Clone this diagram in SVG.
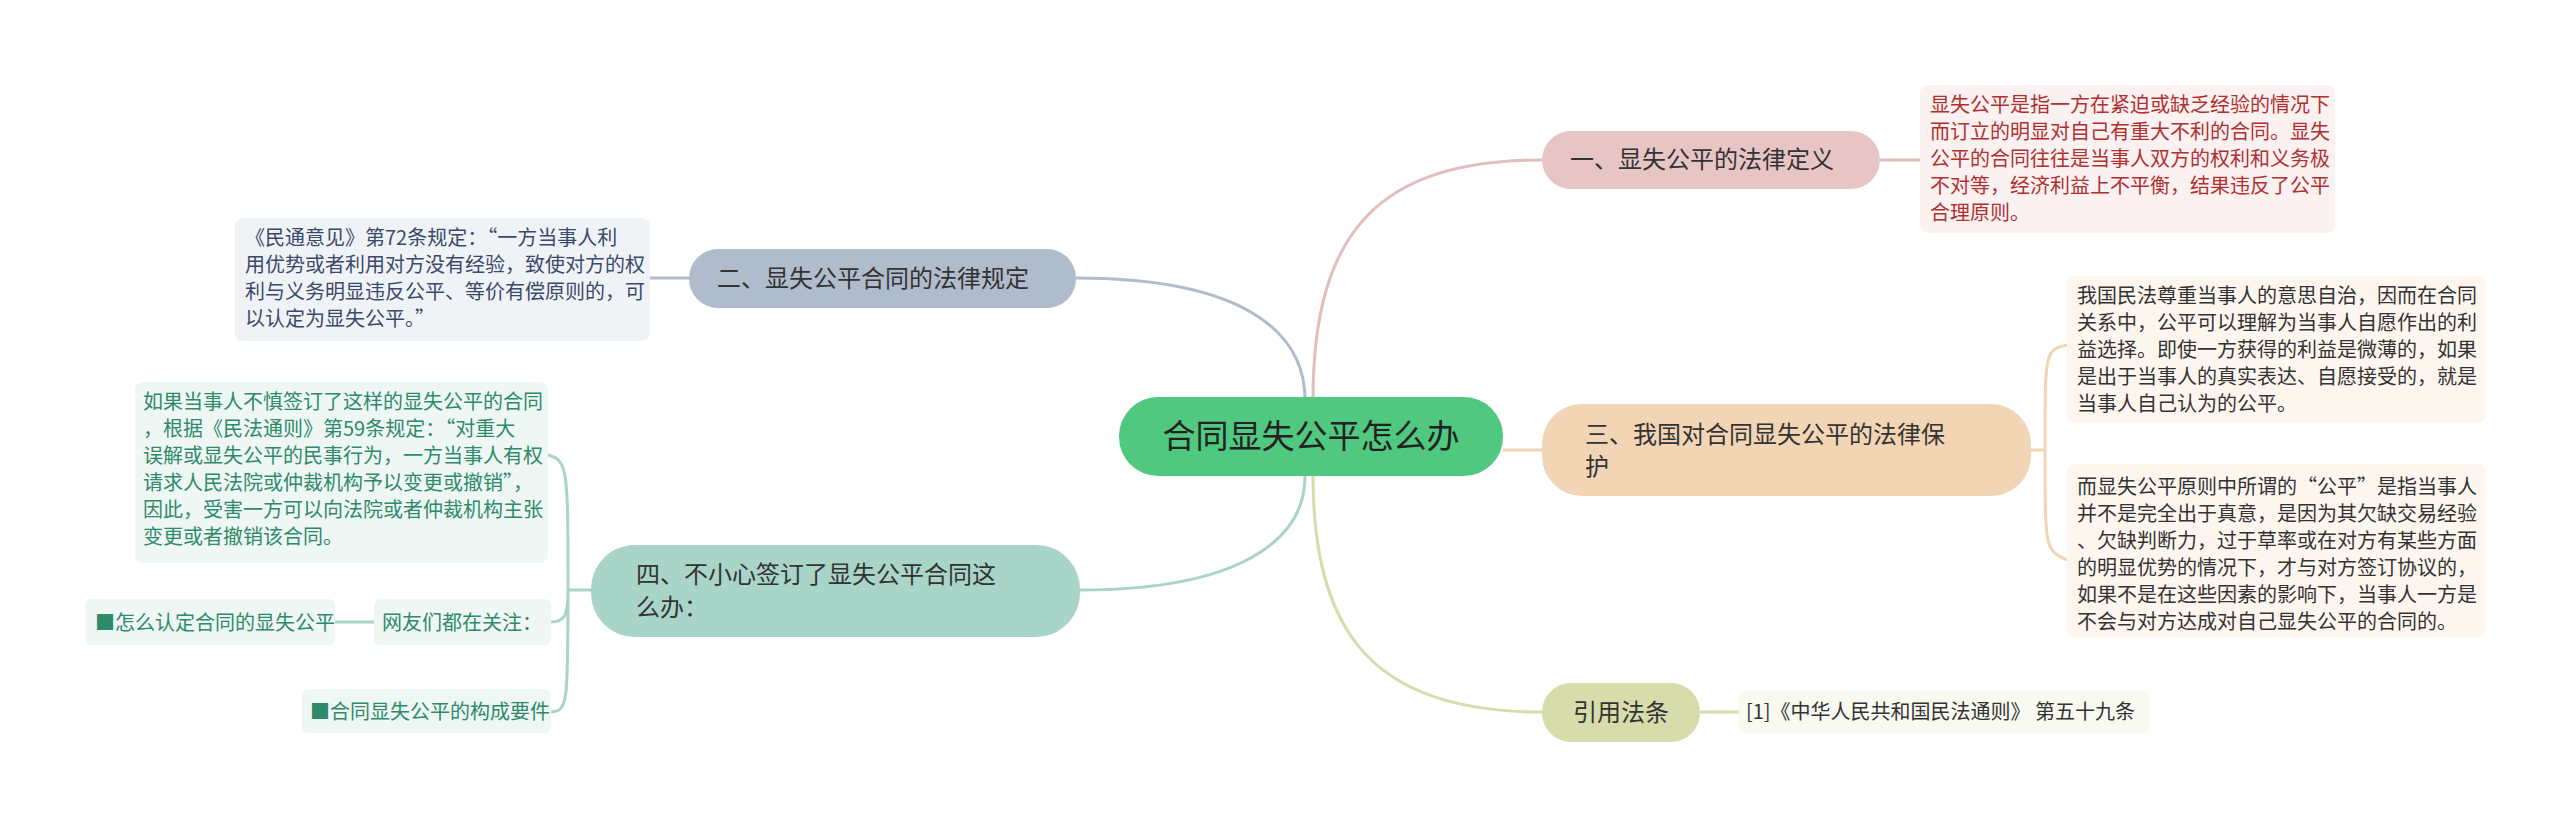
<svg xmlns="http://www.w3.org/2000/svg" width="2560" height="823" viewBox="0 0 2560 823">
<style>
text{font-family:"Noto Sans CJK SC","Noto Sans",sans-serif}
.c{fill:none;stroke-width:3}
.l{font-size:20px}
.m{font-size:24px;fill:#333}
</style>
<rect width="2560" height="823" fill="#fff"/>
<g id="connectors">
<path class="c" stroke="#e3bcbc" d="M1313,400 C1313,230 1380,160 1542,160"/>
<path class="c" stroke="#f2d5b5" d="M1503,450 L1542,450"/>
<path class="c" stroke="#d6dcaa" d="M1313,476 C1313,640 1380,712 1542,712"/>
<path class="c" stroke="#b0bccc" d="M1305,400 C1305,330 1240,278 1076,278"/>
<path class="c" stroke="#a8d5c8" d="M1305,476 C1305,540 1240,590 1080,590"/>
<path class="c" stroke="#e3bcbc" d="M1880,160 L1920,160"/>
<path class="c" stroke="#f2d5b5" d="M2031,450 L2045,450 M2045,450 C2045,350 2045,350 2067,345 M2045,450 C2045,550 2045,550 2067,560"/>
<path class="c" stroke="#d6dcaa" d="M1700,712 L1739,712"/>
<path class="c" stroke="#b0bccc" d="M689,278 L650,278"/>
<path class="c" stroke="#a8d5c8" d="M591,590 L568,590 M568,590 C568,470 568,460 548,455 M568,590 C568,615 565,622 551,622 M568,590 C568,700 568,712 551,712"/>
<path class="c" stroke="#a8d5c8" d="M374,622 L335,622"/>
</g>
<g id="root"><rect x="1119" y="397" width="384" height="79" rx="39" fill="#50c880"/><text x="1311" y="448" font-size="33" text-anchor="middle" fill="#222">合同显失公平怎么办</text></g>
<g id="n1"><rect x="1542" y="131" width="338" height="58" rx="29" fill="#e8c5c5"/><text class="m" x="1570" y="168">一、显失公平的法律定义</text></g>
<g id="n1a"><rect x="1920" y="85" width="415" height="148" rx="8" fill="#fbf1f1"/><text class="l" fill="#b03030"><tspan x="1930" y="112">显失公平是指一方在紧迫或缺乏经验的情况下</tspan><tspan x="1930" y="139">而订立的明显对自己有重大不利的合同。显失</tspan><tspan x="1930" y="166">公平的合同往往是当事人双方的权利和义务极</tspan><tspan x="1930" y="193">不对等，经济利益上不平衡，结果违反了公平</tspan><tspan x="1930" y="220">合理原则。</tspan></text></g>
<g id="n3"><rect x="1542" y="404" width="489" height="92" rx="40" fill="#f2d5b5"/><text class="m" fill="#333"><tspan x="1585" y="443">三、我国对合同显失公平的法律保</tspan><tspan x="1585" y="475">护</tspan></text></g>
<g id="n3a"><rect x="2067" y="276" width="419" height="147" rx="8" fill="#fdf6ef"/><text class="l" fill="#333"><tspan x="2077" y="303">我国民法尊重当事人的意思自治，因而在合同</tspan><tspan x="2077" y="330">关系中，公平可以理解为当事人自愿作出的利</tspan><tspan x="2077" y="357">益选择。即使一方获得的利益是微薄的，如果</tspan><tspan x="2077" y="384">是出于当事人的真实表达、自愿接受的，就是</tspan><tspan x="2077" y="411">当事人自己认为的公平。</tspan></text></g>
<g id="n3b"><rect x="2067" y="464" width="419" height="173" rx="8" fill="#fdf6ef"/><text class="l" fill="#333"><tspan x="2077" y="494">而显失公平原则中所谓的“公平”是指当事人</tspan><tspan x="2077" y="521">并不是完全出于真意，是因为其欠缺交易经验</tspan><tspan x="2077" y="548">、欠缺判断力，过于草率或在对方有某些方面</tspan><tspan x="2077" y="575">的明显优势的情况下，才与对方签订协议的，</tspan><tspan x="2077" y="602">如果不是在这些因素的影响下，当事人一方是</tspan><tspan x="2077" y="629">不会与对方达成对自己显失公平的合同的。</tspan></text></g>
<g id="n5"><rect x="1542" y="683" width="158" height="59" rx="29" fill="#d6dcaa"/><text class="m" x="1621" y="721" text-anchor="middle">引用法条</text></g>
<g id="n5a"><rect x="1739" y="691" width="411" height="42" rx="6" fill="#f8f9f0"/><text class="l" x="1746" y="719" fill="#333">[1]《中华人民共和国民法通则》 第五十九条</text></g>
<g id="n2"><rect x="689" y="249" width="387" height="59" rx="29" fill="#b0bccc"/><text class="m" x="717" y="287">二、显失公平合同的法律规定</text></g>
<g id="n2a"><rect x="235" y="218" width="415" height="123" rx="8" fill="#f0f3f6"/><text class="l" fill="#3b4a6b"><tspan x="245" y="245">《民通意见》第72条规定：“一方当事人利</tspan><tspan x="245" y="272">用优势或者利用对方没有经验，致使对方的权</tspan><tspan x="245" y="299">利与义务明显违反公平、等价有偿原则的，可</tspan><tspan x="245" y="326">以认定为显失公平。”</tspan></text></g>
<g id="n4"><rect x="591" y="545" width="489" height="92" rx="44" fill="#a8d5c8"/><text class="m" fill="#333"><tspan x="636" y="583">四、不小心签订了显失公平合同这</tspan><tspan x="636" y="616">么办：</tspan></text></g>
<g id="n4a"><rect x="135" y="382" width="413" height="181" rx="8" fill="#eef7f3"/><text class="l" fill="#2e8a6b"><tspan x="143" y="409">如果当事人不慎签订了这样的显失公平的合同</tspan><tspan x="143" y="436">，根据《民法通则》第59条规定：“对重大</tspan><tspan x="143" y="463">误解或显失公平的民事行为，一方当事人有权</tspan><tspan x="143" y="490">请求人民法院或仲裁机构予以变更或撤销”，</tspan><tspan x="143" y="517">因此，受害一方可以向法院或者仲裁机构主张</tspan><tspan x="143" y="544">变更或者撤销该合同。</tspan></text></g>
<g id="n4b"><rect x="374" y="599" width="177" height="46" rx="6" fill="#eef7f3"/><text class="l" x="382" y="630" fill="#2e8a6b">网友们都在关注：</text></g>
<g id="n4c"><rect x="85" y="599" width="250" height="46" rx="6" fill="#eef7f3"/><text class="l" x="95" y="630" fill="#2e8a6b">■怎么认定合同的显失公平</text></g>
<g id="n4d"><rect x="302" y="689" width="249" height="44" rx="6" fill="#eef7f3"/><text class="l" x="310" y="719" fill="#2e8a6b">■合同显失公平的构成要件</text></g>
</svg>
